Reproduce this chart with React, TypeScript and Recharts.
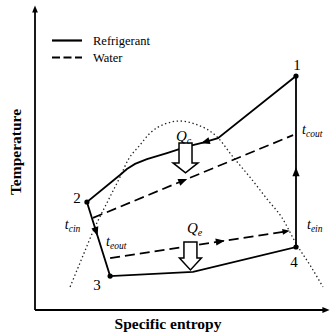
import React from "react";
import { ComposedChart, Legend, Line, ReferenceDot, XAxis, YAxis } from "recharts";

const W = 330;
const H = 334;
const TOP = 10;
const RIGHT = 5;
const YAXIS_W = 35;
const XAXIS_H = 24;
const PLOT_W = W - YAXIS_W - RIGHT;
const PLOT_H = H - TOP - XAXIS_H;
const SERIF = '"Liberation Serif", "Times New Roman", serif';

// refrigerant cycle 1 -> 2 -> 3 -> 4 -> 1 (entropy s, temperature T, both 0..100)
const refrigerantS = [90, 63.1, 57.9, 53.4, 50.0, 45.5, 38.6, 34.5, 31.7, 29.3, 17.9, 25.9, 54.5, 90, 90];
const refrigerantT = [78, 57.3, 55.8, 54.7, 53.7, 52.3, 50.3, 48.7, 47.0, 45.0, 36.0, 11.3, 12.7, 21, 78];
const stateIndex = [0, 10, 11, 13];
const stateLabels = ["1", "2", "3", "4"];

// water streams
const condWaterS = [20, 89];
const condWaterT = [30.7, 58.3];
const evapWaterS = [25.9, 87.2];
const evapWaterT = [17.3, 26.3];

// saturation dome
const domeS = [12.1, 16.2, 20.7, 24.8, 29.3, 32.1, 36.2, 39.7, 44.8, 50, 55.2, 62.8, 68.3, 74.1, 80, 85.2, 90.3, 94.8, 99.3];
const domeT = [7.7, 17.3, 27.7, 35.7, 44.3, 50, 55, 59, 62, 63, 62, 57.7, 51, 44.3, 37, 30.7, 21.7, 15, 7.7];

const legendNames = ["Refrigerant", "Water"];

const rows = (s: number[], t: number[]) => s.map((v, i) => ({ s: v, T: t[i] }));
const refrigerant = rows(refrigerantS, refrigerantT);
const condWater = rows(condWaterS, condWaterT);
const evapWater = rows(evapWaterS, evapWaterT);
const dome = rows(domeS, domeT);

// flow direction markers: series, segment, fraction along it
const flowArrows = [
  { data: refrigerant, seg: 1, at: 0.85, size: 1 },
  { data: refrigerant, seg: 10, at: 0.4, size: 1 },
  { data: refrigerant, seg: 13, at: 0.44, size: 1 },
  { data: condWater, seg: 0, at: 0.45, size: 1 },
  { data: evapWater, seg: 0, at: 0.62, size: 1 },
  { data: evapWater, seg: 0, at: 0.99, size: 0.8 },
];

// label offsets around state points (px)
const stateOffsets = [
  [1, -6],
  [-10, 1],
  [-13, 14],
  [-2, 20],
];

// text annotations (s, T of the text baseline start)
const notes = [
  { s: 92.1, T: 58.7, main: "t", sub: "cout" },
  { s: 93.8, T: 27.0, main: "t", sub: "ein" },
  { s: 10.3, T: 27.0, main: "t", sub: "cin" },
  { s: 24.5, T: 21.3, main: "t", sub: "eout" },
  { s: 48.6, T: 56.4, main: "Q", sub: "c" },
  { s: 52.4, T: 25.7, main: "Q", sub: "e" },
];

// heat transfer block arrows (top centre)
const heatArrows = [
  { s: 51.9, T: 55.7, shaft: 20, head: 10, shaftW: 13, headW: 25 },
  { s: 53.6, T: 22.7, shaft: 16, head: 12, shaftW: 13, headW: 22 },
];

function FlowHead({ cx, cy, angle, size }: any) {
  const L = 9 * size;
  const hw = 3.6 * size;
  return (
    <path
      d={`M${L / 2},0 L${-L / 2},${-hw} L${-L / 2},${hw} Z`}
      fill="#000"
      transform={`translate(${cx},${cy}) rotate(${angle})`}
    />
  );
}

function BlockArrow({ cx, cy, a }: any) {
  const sw = a.shaftW / 2;
  const hw = a.headW / 2;
  const d = `M${cx - sw},${cy} L${cx + sw},${cy} L${cx + sw},${cy + a.shaft} L${cx + hw},${cy + a.shaft} L${cx},${cy + a.shaft + a.head} L${cx - hw},${cy + a.shaft} L${cx - sw},${cy + a.shaft} Z`;
  return <path d={d} fill="#fff" stroke="#000" strokeWidth={1.5} strokeLinejoin="miter" />;
}

function Note({ cx, cy, n }: any) {
  const isQ = n.main === "Q";
  return (
    <text x={cx} y={cy} fontFamily={SERIF} fontStyle="italic" fill="#000">
      <tspan fontSize={isQ ? 15 : 14}>{n.main}</tspan>
      <tspan fontSize={isQ ? 10 : 9.5} dy={3}>
        {n.sub}
      </tspan>
    </text>
  );
}

function StateDot(props: any) {
  const { cx, cy, index } = props;
  const k = stateIndex.indexOf(index);
  if (k < 0 || index === refrigerant.length - 1) return <g key={`d${index}`} />;
  const [dx, dy] = stateOffsets[k];
  return (
    <g key={`d${index}`}>
      <circle cx={cx} cy={cy} r={2.6} fill="#000" />
      <text x={cx + dx} y={cy + dy} textAnchor="middle" fontFamily={SERIF} fontSize={15} fill="#000">
        {stateLabels[k]}
      </text>
    </g>
  );
}

function LegendBox({ payload }: any) {
  const items = (payload ?? []).filter((e: any) => legendNames.includes(e.value));
  return (
    <svg width={120} height={items.length * 17}>
      {items.map((e: any, i: number) => (
        <g key={e.value} transform={`translate(0,${i * 17})`}>
          <line
            x1={0}
            x2={30}
            y1={8.5}
            y2={8.5}
            stroke="#000"
            strokeWidth={2.2}
            strokeDasharray={e.value === "Water" ? "8 3.5" : undefined}
          />
          <text x={41} y={12.5} fontFamily={SERIF} fontSize={12.5} fill="#000">
            {e.value}
          </text>
        </g>
      ))}
    </svg>
  );
}

const XTitle = ({ viewBox }: any) => (
  <text x={(viewBox?.x ?? YAXIS_W) + 133} y={H - 5} textAnchor="middle" fontFamily={SERIF} fontWeight="bold" fontSize={15.5} fill="#000">
    Specific entropy
  </text>
);

const YTitle = () => (
  <text
    x={15}
    y={152}
    textAnchor="middle"
    dominantBaseline="central"
    transform="rotate(-90 15 152)"
    fontFamily={SERIF}
    fontWeight="bold"
    fontSize={15.5}
    fill="#000"
  >
    Temperature
  </text>
);

export default function App() {
  return (
    <div style={{ position: "absolute", left: 0, top: 0, background: "#fff" }}>
      <ComposedChart width={W} height={H} margin={{ top: TOP, right: RIGHT, left: 0, bottom: 0 }}>
        <XAxis
          type="number"
          dataKey="s"
          domain={[0, 100]}
          allowDataOverflow
          height={XAXIS_H}
          tick={false}
          tickLine={false}
          axisLine={{ stroke: "#000", strokeWidth: 1.8 }}
          label={{ value: "Specific entropy", content: XTitle }}
        />
        <YAxis
          type="number"
          dataKey="T"
          domain={[0, 100]}
          allowDataOverflow
          width={YAXIS_W}
          tick={false}
          tickLine={false}
          axisLine={{ stroke: "#000", strokeWidth: 1.8 }}
          label={{ value: "Temperature", content: YTitle }}
        />
        <Legend
          layout="vertical"
          align="center"
          verticalAlign="middle"
          wrapperStyle={{ left: 52, top: 32, width: 120 }}
          content={<LegendBox />}
        />
        <Line
          data={dome}
          dataKey="T"
          name="Saturation"
          type="monotone"
          stroke="#222"
          strokeWidth={1.3}
          strokeDasharray="1.4 2.6"
          dot={false}
          legendType="none"
          isAnimationActive={false}
        />
        <Line
          data={condWater}
          dataKey="T"
          name="Water"
          type="linear"
          stroke="#000"
          strokeWidth={1.7}
          strokeDasharray="10 5"
          dot={false}
          isAnimationActive={false}
        />
        <Line
          data={evapWater}
          dataKey="T"
          name="Evaporator water"
          type="linear"
          stroke="#000"
          strokeWidth={1.7}
          strokeDasharray="10 5"
          dot={false}
          legendType="none"
          isAnimationActive={false}
        />
        <Line
          data={refrigerant}
          dataKey="T"
          name="Refrigerant"
          type="linear"
          stroke="#000"
          strokeWidth={1.8}
          dot={StateDot}
          activeDot={false}
          isAnimationActive={false}
        />
        {flowArrows.map((f, i) => {
          const p = f.data[f.seg];
          const q = f.data[f.seg + 1];
          const s = p.s + (q.s - p.s) * f.at;
          const T = p.T + (q.T - p.T) * f.at;
          const angle =
            (Math.atan2(-(q.T - p.T) * (PLOT_H / 100), (q.s - p.s) * (PLOT_W / 100)) * 180) / Math.PI;
          return (
            <ReferenceDot
              key={`f${i}`}
              x={s}
              y={T}
              ifOverflow="visible"
              shape={(pr: any) => <FlowHead cx={pr.cx} cy={pr.cy} angle={angle} size={f.size} />}
            />
          );
        })}
        {heatArrows.map((a, i) => (
          <ReferenceDot
            key={`h${i}`}
            x={a.s}
            y={a.T}
            ifOverflow="visible"
            shape={(pr: any) => <BlockArrow cx={pr.cx} cy={pr.cy} a={a} />}
          />
        ))}
        {notes.map((n, i) => (
          <ReferenceDot
            key={`n${i}`}
            x={n.s}
            y={n.T}
            ifOverflow="visible"
            shape={(pr: any) => <Note cx={pr.cx} cy={pr.cy} n={n} />}
          />
        ))}
        <ReferenceDot
          x={100}
          y={0}
          ifOverflow="visible"
          shape={(pr: any) => <FlowHead cx={pr.cx + 1} cy={pr.cy} angle={0} size={0.8} />}
        />
        <ReferenceDot
          x={0}
          y={100}
          ifOverflow="visible"
          shape={(pr: any) => <FlowHead cx={pr.cx} cy={pr.cy - 1} angle={-90} size={0.8} />}
        />
      </ComposedChart>
    </div>
  );
}
